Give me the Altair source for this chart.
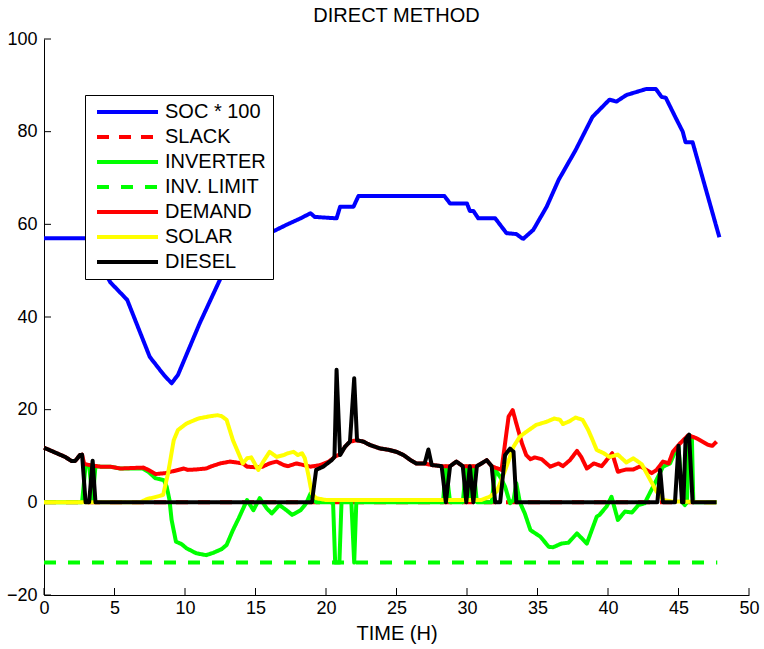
import altair as alt
import pandas as pd

FONT = "Liberation Sans"

SERIES = ["SOC * 100", "SLACK", "INVERTER", "INV. LIMIT", "DEMAND", "SOLAR", "DIESEL"]
COLORS = ["#0000ff", "#ff0000", "#00ff00", "#00ff00", "#ff0000", "#ffff00", "#000000"]
DASHES = [[1, 0], [12, 10], [1, 0], [12, 12], [1, 0], [1, 0], [1, 0]]

X_TICKS = [0, 5, 10, 15, 20, 25, 30, 35, 40, 45, 50]
Y_TICKS = [-20, 0, 20, 40, 60, 80, 100]

soc_t = [0, 3.0, 4.7, 5.9, 7.5, 8.5, 9.05, 9.5, 11.05, 12.5, 14.0, 16.2, 17.2, 18.2,
         18.9, 19.2, 20.75, 21.0, 21.95, 22.3, 28.4, 28.8, 30.0, 30.2, 30.45, 30.8,
         32.0, 32.8, 33.5, 33.9, 34.0, 34.7, 35.65, 36.5, 37.7, 38.9, 40.1, 40.6,
         41.3, 42.7, 43.4, 43.8, 44.1, 44.8, 45.3, 45.5, 46.0, 47.9]
soc_v = [57, 57, 47.5, 43.7, 31.4, 27.5, 25.7, 27.5, 38.7, 48.2, 56.5, 58.4, 59.9, 61.3,
         62.4, 61.6, 61.3, 63.8, 63.8, 66.1, 66.1, 64.5, 64.5, 62.9, 62.9, 61.3,
         61.3, 58.1, 57.9, 57.0, 56.9, 58.8, 63.8, 69.6, 76.0, 83.2, 86.9, 86.5,
         87.9, 89.2, 89.2, 87.5, 87.3, 83.0, 80.0, 77.7, 77.7, 57.2]

slack_t = [0, 47.75]
slack_v = [0, 0]

inv_t = [0, 2.7, 2.95, 3.2, 3.45, 3.65, 4.0, 4.7, 5.4, 7.0, 7.4, 7.9, 8.5, 8.7, 8.9,
         9.05, 9.36, 9.75, 10.1, 10.8, 11.5, 12.0, 12.6, 12.95, 13.4, 13.8, 14.4,
         14.85, 15.3, 15.8, 16.15, 16.7, 17.2, 17.6, 18.2, 18.6, 18.9, 19.1, 19.3,
         20.5, 20.65, 20.95, 21.1, 21.8, 22.0, 22.15, 28.3, 28.5, 28.8, 29.7, 29.95,
         30.2, 30.45, 30.7, 31.75, 32.0, 32.35, 32.7, 33.05, 33.3, 33.5, 33.75, 34.1,
         34.5, 35.2, 35.8, 36.1, 36.7, 37.2, 37.8, 38.5, 38.85, 39.2, 39.4, 39.9,
         40.25, 40.7, 41.2, 41.7, 42.15, 42.6, 43.2, 43.55, 43.9, 44.4, 44.7, 45.0,
         45.3, 45.45, 45.6, 45.75, 45.95, 46.05, 47.7]
inv_v = [0, 0, 8.0, 8.0, 0.5, 7.8, 7.7, 7.7, 7.3, 7.3, 6.6, 5.2, 4.8, 3.4, 0.5,
         -3.8, -8.5, -9.0, -9.9, -11.0, -11.4, -10.9, -10.1, -9.2, -6.0, -3.5, 0.5,
         -1.7, 0.9, -1.3, -2.4, -0.6, -1.7, -2.7, -1.7, -0.2, 1.9, 1.0, 0,
         0, -13, -13, 0, 0, -13, 0, 0, 7.8, 0, 0, 7.8,
         0.5, 7.8, 0, 0, 7.0, 5.5, 3.4, -0.2, 0.5, 4.1, 0, -2.4,
         -6.0, -7.4, -9.6, -9.7, -8.9, -8.7, -6.7, -8.9, -6.0, -3.1, -2.7, -0.9,
         1.2, -3.8, -2.0, -2.2, -0.6, -0.2, 3.4, 5.5, 7.7, 8.4, 10.5, 12.0,
         0, -0.6, 0, 14.5, 14.0, 0, 0]

lim_t = [0, 47.75]
lim_v = [-13, -13]

dem_t = [0, 1.5, 1.96, 2.2, 2.55, 2.7, 2.85, 3.2, 4.0, 4.7, 5.4, 7.04, 7.4, 7.9, 8.6,
         9.2, 9.9, 10.2, 10.8, 11.5, 11.9, 12.5, 13.2, 14.1, 14.4, 15.1, 15.5, 16.0,
         16.5, 17.0, 17.3, 17.9, 18.9, 19.6, 20.2, 20.5, 20.6, 21.0, 21.35, 21.7,
         22.2, 22.65, 23.1, 23.8, 24.5, 25.0, 25.5, 26.0, 26.4, 27.0, 27.26, 27.5,
         28.3, 28.8, 29.25, 29.7, 30.2, 30.7, 31.4, 31.75, 32.0, 32.45, 32.95, 33.24,
         33.5, 33.9, 34.2, 34.5, 34.8, 35.3, 35.9, 36.5, 36.8, 37.3, 37.8, 38.1, 38.5,
         39.0, 39.55, 40.3, 40.7, 41.3, 41.8, 42.3, 43.1, 43.45, 43.9, 44.3, 44.6,
         45.1, 45.7, 46.3, 47.1, 47.4, 47.7]
dem_v = [11.8, 9.8, 8.9, 8.9, 10.2, 10.3, 8.3, 8.05, 7.7, 7.7, 7.3, 7.5, 7.0, 6.1, 6.3,
         6.75, 7.3, 7.0, 7.1, 7.3, 7.8, 8.4, 8.8, 8.4, 7.7, 7.55, 7.7, 8.4,
         8.8, 8.05, 7.8, 8.4, 7.7, 8.05, 8.8, 9.5, 9.8, 10.4, 12.0, 13.1,
         13.4, 13.1, 12.4, 11.65, 11.3, 10.9, 10.2, 9.1, 8.4, 8.4, 8.2, 8.05,
         7.8, 7.8, 8.8, 7.8, 7.8, 7.8, 9.1, 7.8, 7.5, 7.0, 18.5, 19.9,
         17.0, 12.7, 10.2, 9.3, 9.7, 9.3, 7.7, 8.4, 7.8, 9.1, 11.1, 9.8, 7.3,
         8.4, 7.8, 10.6, 6.6, 7.1, 7.1, 7.8, 6.3, 7.0, 8.8, 8.4, 10.9,
         12.7, 14.5, 13.8, 12.4, 12.2, 13.1]

sol_t = [0, 6.8, 7.3, 7.85, 8.45, 8.8, 9.2, 9.5, 10.1, 10.95, 11.8, 12.3, 12.6, 12.95,
         13.4, 14.1, 14.4, 14.7, 15.2, 15.55, 16.0, 16.5, 17.0, 17.3, 17.7, 18.0,
         18.3, 18.5, 18.75, 19.0, 19.3, 20.0, 31.0, 31.6, 32.1, 32.35, 32.8, 33.3,
         33.75, 34.2, 34.9, 35.65, 36.2, 36.6, 36.8, 37.2, 37.7, 38.2, 38.6, 38.9,
         39.2, 39.7, 40.1, 40.7, 41.3, 41.8, 42.4, 43.0, 43.45, 43.9, 44.5, 47.7]
sol_v = [0, 0, 0.7, 1.1, 1.6, 6.3, 13.4, 15.6, 17.0, 18.1, 18.6, 18.8, 18.6, 17.8,
         13.4, 8.4, 9.5, 9.7, 7.0, 8.8, 10.9, 9.8, 10.2, 10.6, 10.9, 10.2,
         10.6, 9.5, 5.9, 1.9, 0.9, 0.5, 0.5, 1.2, 2.3, 4.1, 7.7, 12.0,
         14.2, 15.2, 16.7, 17.4, 18.1, 17.8, 16.9, 17.4, 18.3, 17.8, 15.6, 13.5,
         11.3, 10.6, 9.8, 10.3, 8.6, 9.5, 8.2, 4.8, 2.3, 0.5, 0.2, 0]

die_t = [0, 1.5, 1.96, 2.2, 2.55, 2.7, 2.95, 3.2, 3.45, 3.65, 19.0, 19.3, 19.8, 20.4,
         20.6, 20.75, 21.0, 21.35, 21.7, 22.0, 22.2, 22.65, 23.1, 23.8, 24.5, 25.0,
         25.5, 26.0, 26.4, 27.0, 27.26, 27.5, 28.2, 28.5, 28.8, 29.25, 29.7, 29.95,
         30.2, 30.45, 30.7, 31.4, 31.75, 32.0, 32.35, 32.7, 33.05, 33.3, 33.5, 43.5,
         43.7, 43.9, 44.75, 45.0, 45.25, 45.35, 45.5, 45.75, 46.0, 47.7]
die_v = [11.8, 9.8, 8.9, 8.9, 10.2, 10.3, 0, 0, 9.0, 0, 0, 7.0, 7.7, 9.1,
         9.8, 28.6, 10.2, 12.0, 13.1, 26.8, 13.4, 13.1, 12.4, 11.65, 11.3, 10.9,
         10.2, 9.1, 8.4, 8.4, 11.4, 8.05, 7.8, 0, 7.8, 8.8, 7.8, 0,
         7.8, 0, 7.8, 9.1, 7.8, 0, 0, 10.2, 11.6, 10.9, 0, 0,
         7.0, 0, 0, 12.2, 0, 0, 13.6, 14.6, 0, 0]

series_data = [
    (SERIES[0], soc_t, soc_v),
    (SERIES[1], slack_t, slack_v),
    (SERIES[2], inv_t, inv_v),
    (SERIES[3], lim_t, lim_v),
    (SERIES[4], dem_t, dem_v),
    (SERIES[5], sol_t, sol_v),
    (SERIES[6], die_t, die_v),
]

rows = []
for name, ts, vs in series_data:
    for i, (t, v) in enumerate(zip(ts, vs)):
        rows.append({"series": name, "t": t, "v": v, "i": i})
df = pd.DataFrame(rows)

legend = alt.Legend(
    title=None,
    orient="none",
    legendX=41,
    legendY=56,
    fillColor="white",
    strokeColor="black",
    padding=7,
    symbolType="M-1,0H11.2",
    symbolSize=100,
    symbolStrokeWidth=4,
    labelFontSize=20,
    labelFont=FONT,
    labelColor="black",
    labelOffset=53,
    rowPadding=5,
)

x_enc = alt.X(
    "t:Q",
    scale=alt.Scale(domain=[0, 50], nice=False, zero=False),
    axis=alt.Axis(
        values=X_TICKS, title="TIME (H)", grid=False, ticks=False,
        domainColor="black", labelColor="black", labelFont=FONT, labelFontSize=18,
        labelPadding=4, titleFont=FONT, titleFontSize=20, titleFontWeight="normal",
        titleColor="black", titlePadding=6, labelFlush=False,
    ),
)
y_enc = alt.Y(
    "v:Q",
    scale=alt.Scale(domain=[-20, 100], nice=False, zero=False),
    axis=alt.Axis(
        values=Y_TICKS, title=None, grid=False, ticks=False,
        domainColor="black", labelColor="black", labelFont=FONT, labelFontSize=18,
        labelPadding=7, labelFlush=False,
    ),
)
color_enc = alt.Color("series:N", scale=alt.Scale(domain=SERIES, range=COLORS), legend=legend, sort=SERIES)
dash_enc = alt.StrokeDash("series:N", scale=alt.Scale(domain=SERIES, range=DASHES), legend=legend, sort=SERIES)

layers = []
for name in SERIES:
    layers.append(
        alt.Chart(df)
        .transform_filter(alt.datum.series == name)
        .mark_line(strokeWidth=4, strokeJoin="round", strokeCap="butt")
        .encode(x=x_enc, y=y_enc, color=color_enc, strokeDash=dash_enc, order="i:Q")
    )

xt = (
    alt.Chart(pd.DataFrame({"t": X_TICKS}))
    .mark_rule(color="black", strokeWidth=1)
    .encode(x="t:Q", y=alt.value(556), y2=alt.value(549))
)
yt = (
    alt.Chart(pd.DataFrame({"v": Y_TICKS}))
    .mark_rule(color="black", strokeWidth=1)
    .encode(y="v:Q", x=alt.value(0), x2=alt.value(7))
)

chart = (
    alt.layer(xt, yt, *layers)
    .properties(
        width=705,
        height=556,
        title=alt.TitleParams("DIRECT METHOD", font=FONT, fontSize=20, fontWeight="normal",
                              color="black", offset=14, anchor="middle", dy=10),
        padding={"left": 44, "top": 39, "right": 15, "bottom": 54},
        autosize=alt.AutoSizeParams(type="none"),
        background="white",
    )
    .configure_view(strokeWidth=0, stroke="transparent")
)

chart.save("out.html", embed_options={"renderer": "svg", "actions": False})
